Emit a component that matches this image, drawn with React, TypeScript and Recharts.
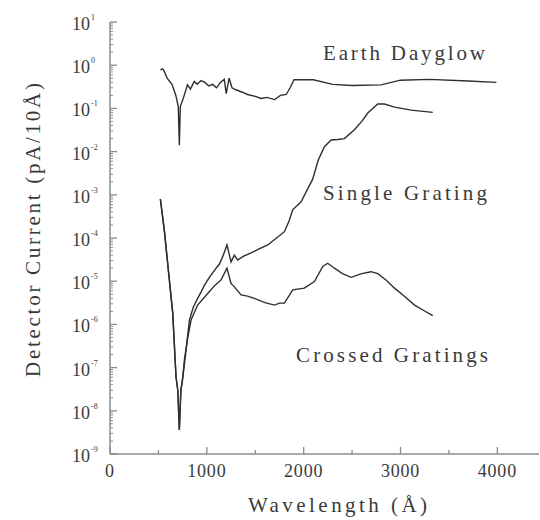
import React from 'react';
import { LineChart, Line, XAxis, YAxis } from 'recharts';

// ---- Data (wavelength in Å, detector current in pA/10Å) ----
const dayglowWl = [520, 545, 560, 590, 640, 680, 705, 716, 726, 760, 800, 830, 870, 900, 940, 980, 1020, 1060, 1100, 1140, 1180, 1200, 1230, 1260, 1300, 1360, 1420, 1500, 1560, 1620, 1700, 1760, 1820, 1860, 1900, 2100, 2300, 2500, 2800, 3000, 3300, 3700, 3990];
const dayglowCur = [0.78, 0.82, 0.72, 0.5, 0.36, 0.2, 0.11, 0.014, 0.11, 0.18, 0.35, 0.28, 0.42, 0.36, 0.44, 0.4, 0.33, 0.36, 0.3, 0.4, 0.47, 0.22, 0.5, 0.3, 0.27, 0.24, 0.21, 0.19, 0.17, 0.18, 0.16, 0.2, 0.21, 0.3, 0.46, 0.46, 0.36, 0.34, 0.35, 0.45, 0.47, 0.43, 0.4];

const singleWl = [520, 561, 605, 648, 682, 700, 716, 732, 750, 785, 820, 860, 905, 940, 974, 1030, 1095, 1130, 1164, 1208, 1250, 1284, 1318, 1380, 1457, 1540, 1629, 1720, 1801, 1850, 1887, 1973, 2093, 2150, 2214, 2283, 2350, 2421, 2524, 2600, 2662, 2765, 2834, 2938, 3110, 3333];
const singleCur = [8e-4, 1.5e-4, 1.6e-5, 1.8e-6, 6e-8, 3e-8, 3.6e-9, 3e-8, 5.5e-8, 2.5e-7, 1.26e-6, 2.5e-6, 4e-6, 5.6e-6, 8e-6, 1.26e-5, 2e-5, 2.5e-5, 3.7e-5, 6.9e-5, 2.8e-5, 4e-5, 3.1e-5, 3.8e-5, 4.5e-5, 5.6e-5, 6.9e-5, 1e-4, 1.4e-4, 2.5e-4, 4.5e-4, 6.9e-4, 2.3e-3, 6.3e-3, 1.3e-2, 1.86e-2, 1.9e-2, 2.0e-2, 3.2e-2, 5e-2, 7.8e-2, 0.126, 0.126, 0.107, 0.091, 0.081];

const crossedWl = [520, 561, 605, 648, 682, 700, 716, 732, 750, 768, 800, 837, 905, 1009, 1080, 1147, 1208, 1250, 1284, 1353, 1420, 1491, 1600, 1698, 1750, 1801, 1887, 2007, 2111, 2197, 2248, 2318, 2400, 2490, 2600, 2696, 2765, 2850, 2938, 3040, 3145, 3240, 3333];
const crossedCur = [8e-4, 1.5e-4, 1.6e-5, 1.8e-6, 6e-8, 3e-8, 3.6e-9, 3e-8, 5.5e-8, 1.5e-7, 4.5e-7, 1.26e-6, 2.8e-6, 5.2e-6, 7.9e-6, 1.07e-5, 2e-5, 8.9e-6, 7.4e-6, 4.8e-6, 4.5e-6, 4e-6, 3.2e-6, 2.8e-6, 3.1e-6, 3.1e-6, 6.3e-6, 6.9e-6, 9.8e-6, 2.2e-5, 2.6e-5, 2e-5, 1.5e-5, 1.23e-5, 1.5e-5, 1.66e-5, 1.5e-5, 1.07e-5, 6.9e-6, 4.5e-6, 2.8e-6, 2.1e-6, 1.6e-6];

// ---- Axis ticks ----
const xTicks = [0, 500, 1000, 1500, 2000, 2500, 3000, 3500, 4000];
const xMajorTicks = [0, 1000, 2000, 3000, 4000];
const yMajorTicks = [1e-9, 1e-8, 1e-7, 1e-6, 1e-5, 1e-4, 1e-3, 1e-2, 1e-1, 1, 10];
const yExponentLabels = ['-9', '-8', '-7', '-6', '-5', '-4', '-3', '-2', '-1', '0', '1'];
const yMinorMultipliers = [2, 3, 4, 5, 6, 7, 8, 9];

const yAllTicks: number[] = [];
yMajorTicks.forEach((m, i) => {
  yAllTicks.push(m);
  if (i < yMajorTicks.length - 1) yMinorMultipliers.forEach((k) => yAllTicks.push(m * k));
});

const toPts = (xs: number[], ys: number[]) => xs.map((x, i) => ({ x, y: ys[i] }));
const dayglow = toPts(dayglowWl, dayglowCur);
const single = toPts(singleWl, singleCur);
const crossed = toPts(crossedWl, crossedCur);

const AXIS = '#8c8c8c';
const INK = '#3a3a3a';
const LINE = '#2e2e2e';
const FONT = 'Liberation Serif, Tinos, DejaVu Serif, serif';

const majorIndex = (v: number) => yMajorTicks.findIndex((m) => Math.abs(Math.log10(v) - Math.log10(m)) < 1e-6);

function BottomTick(props: any) {
  const { x, y, payload } = props;
  const v = payload.value;
  const major = xMajorTicks.includes(v);
  return (
    <g>
      <line x1={x} x2={x} y1={y} y2={y - (major ? 7 : 4)} stroke={AXIS} strokeWidth={1.3} />
      {major && (
        <text x={x} y={y + 23} textAnchor="middle" fontSize={18} fill={INK} style={{ fontFamily: FONT }} letterSpacing={0.8}>
          {v}
        </text>
      )}
    </g>
  );
}

function TopTick(props: any) {
  const { x, y, payload } = props;
  const major = xMajorTicks.includes(payload.value);
  return <line x1={x} x2={x} y1={y} y2={y + (major ? 7 : 4)} stroke={AXIS} strokeWidth={1.3} />;
}

function LeftTick(props: any) {
  const { x, y, payload } = props;
  const idx = majorIndex(payload.value);
  const major = idx >= 0;
  return (
    <g>
      <line x1={x} x2={x + (major ? 7 : 3)} y1={y} y2={y} stroke={AXIS} strokeWidth={major ? 1.3 : 1} />
      {major && (
        <text x={x - 20} y={y + 8} textAnchor="end" fontSize={18} fill={INK} style={{ fontFamily: FONT }}>
          10
        </text>
      )}
      {major && (
        <text x={x - 19} y={y - 2} textAnchor="start" fontSize={8} fill={INK} style={{ fontFamily: FONT }}>
          {yExponentLabels[idx]}
        </text>
      )}
    </g>
  );
}

function RightTick(props: any) {
  const { x, y, payload } = props;
  if (majorIndex(payload.value) < 0) return <g />;
  return <line x1={x} x2={x - 4} y1={y} y2={y} stroke={AXIS} strokeWidth={1.3} />;
}

export default function App() {
  return (
    <div style={{ position: 'absolute', left: 0, top: 0, width: 540, height: 520, background: '#fff', overflow: 'hidden', fontFamily: FONT }}>
      <LineChart width={540} height={520} margin={{ top: 22, right: 1, bottom: 0, left: 0 }}>
        <XAxis
          xAxisId="bottom"
          dataKey="x"
          type="number"
          domain={[0, 4430]}
          ticks={xTicks}
          interval={0}
          allowDataOverflow
          height={66}
          tickSize={0}
          tickMargin={0}
          stroke={AXIS}
          strokeWidth={1.5}
          tick={<BottomTick />}
        />
        <XAxis
          xAxisId="top"
          orientation="top"
          dataKey="x"
          type="number"
          domain={[0, 4430]}
          ticks={xTicks}
          interval={0}
          allowDataOverflow
          height={0}
          tickSize={0}
          tickMargin={0}
          stroke={AXIS}
          strokeWidth={1.5}
          tick={<TopTick />}
        />
        <YAxis
          yAxisId="left"
          dataKey="y"
          scale="log"
          type="number"
          domain={[1e-9, 10]}
          ticks={yAllTicks}
          interval={0}
          allowDataOverflow
          width={110}
          tickSize={0}
          tickMargin={0}
          stroke={AXIS}
          strokeWidth={1.5}
          tick={<LeftTick />}
        />
        <YAxis
          yAxisId="right"
          orientation="right"
          dataKey="y"
          scale="log"
          type="number"
          domain={[1e-9, 10]}
          ticks={yAllTicks}
          interval={0}
          allowDataOverflow
          width={0}
          tickSize={0}
          tickMargin={0}
          stroke={AXIS}
          strokeWidth={1.5}
          tick={<RightTick />}
        />
        <Line data={dayglow} xAxisId="bottom" yAxisId="left" dataKey="y" stroke={LINE} strokeWidth={1.4} dot={false} isAnimationActive={false} />
        <Line data={single} xAxisId="bottom" yAxisId="left" dataKey="y" stroke={LINE} strokeWidth={1.4} dot={false} isAnimationActive={false} />
        <Line data={crossed} xAxisId="bottom" yAxisId="left" dataKey="y" stroke={LINE} strokeWidth={1.4} dot={false} isAnimationActive={false} />
      </LineChart>
      <svg width={540} height={520} style={{ position: 'absolute', left: 0, top: 0, pointerEvents: 'none', fontFamily: FONT }}>
        <text x={323} y={60} fontSize={21} fill={INK} style={{ fontFamily: FONT }} textLength={162} lengthAdjust="spacing">Earth Dayglow</text>
        <text x={323} y={200} fontSize={21} fill={INK} style={{ fontFamily: FONT }} textLength={164} lengthAdjust="spacing">Single Grating</text>
        <text x={296} y={362} fontSize={21} fill={INK} style={{ fontFamily: FONT }} textLength={192} lengthAdjust="spacing">Crossed Gratings</text>
        <text x={248} y={512} fontSize={21} fill={INK} style={{ fontFamily: FONT }} textLength={179} lengthAdjust="spacing">Wavelength (Å)</text>
        <text
          x={0}
          y={0}
          transform="translate(40, 230) rotate(-90)"
          textAnchor="middle"
          fontSize={21}
          fill={INK}
          style={{ fontFamily: FONT }}
          textLength={294}
          lengthAdjust="spacing"
        >
          Detector Current (pA/10Å)
        </text>
      </svg>
    </div>
  );
}
